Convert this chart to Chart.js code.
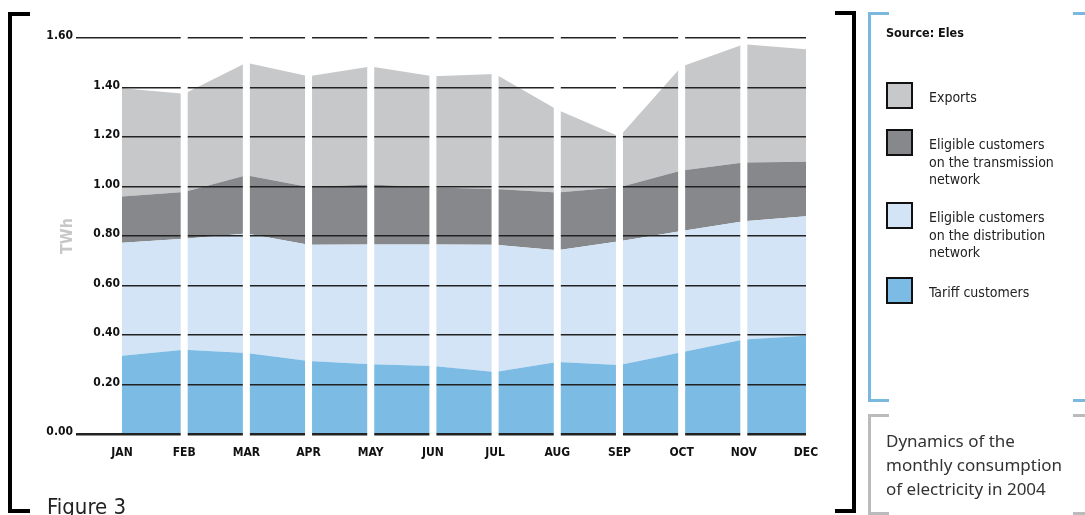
<!DOCTYPE html>
<html>
<head>
<meta charset="utf-8">
<script src="https://cdn.jsdelivr.net/npm/chart.js@4"></script>
<style>
  html, body { margin: 0; padding: 0; background: #fff; }
  body { width: 1085px; height: 515px; position: relative; overflow: hidden;
         font-family: 'DejaVu Sans Condensed', 'Liberation Sans Narrow', sans-serif; }
  #wrap { position: absolute; left: 0; top: 0; width: 840px; height: 515px; }
  .brk { position: absolute; box-sizing: border-box; }
  #figure { position: absolute; left: 47px; top: 494px; font-size: 22px; color: #222;
            font-family: 'DejaVu Sans Condensed', sans-serif; }
  #source { position: absolute; left: 886px; top: 25px; font-size: 12.5px; font-weight: bold; color: #111; }
  .lg-box { position: absolute; left: 886px; width: 27px; height: 27px; box-sizing: border-box; border: 2px solid #111; }
  .lg-txt { position: absolute; left: 929px; font-size: 14px; line-height: 17.5px; color: #222; white-space: pre-line; }
  #caption { position: absolute; left: 886px; top: 429px; font-family: 'Noto Sans', 'Open Sans', sans-serif;
             font-size: 17px; line-height: 24px; color: #333; }
</style>
</head>
<body>
<div id="wrap"><canvas id="c"></canvas></div>

<div class="brk" style="left:8px;top:12px;width:22px;height:501px;border-left:4px solid #000;border-top:4px solid #000;border-bottom:4px solid #000;"></div>
<div class="brk" style="left:835px;top:11px;width:21px;height:502px;border-right:4px solid #000;border-top:4px solid #000;border-bottom:4px solid #000;"></div>
<div class="brk" style="left:868px;top:12px;width:21px;height:390px;border-left:3px solid #7ab8e0;border-top:3px solid #7ab8e0;border-bottom:3px solid #7ab8e0;"></div>
<div class="brk" style="left:1073px;top:12px;width:12px;height:390px;border-top:3px solid #7ab8e0;border-bottom:3px solid #7ab8e0;"></div>
<div class="brk" style="left:868px;top:414px;width:21px;height:101px;border-left:3px solid #b9bbbd;border-top:3px solid #b9bbbd;border-bottom:3px solid #b9bbbd;"></div>
<div class="brk" style="left:1073px;top:414px;width:12px;height:101px;border-top:3px solid #b9bbbd;border-bottom:3px solid #b9bbbd;"></div>

<div id="figure">Figure 3</div>
<div id="source">Source: Eles</div>
<div id="legend"></div>
<div id="caption">Dynamics of the<br>monthly consumption<br>of electricity in 2004</div>

<script>
// ---- data ----
const months = ['JAN','FEB','MAR','APR','MAY','JUN','JUL','AUG','SEP','OCT','NOV','DEC'];
const tariffCustomers       = [0.316, 0.340, 0.327, 0.295, 0.282, 0.275, 0.251, 0.291, 0.279, 0.330, 0.382, 0.397];
const distributionCustomers = [0.457, 0.449, 0.483, 0.470, 0.484, 0.491, 0.514, 0.451, 0.500, 0.490, 0.478, 0.483];
const transmissionCustomers = [0.187, 0.189, 0.235, 0.233, 0.242, 0.230, 0.225, 0.234, 0.218, 0.245, 0.237, 0.220];
const exportsValues         = [0.437, 0.397, 0.455, 0.447, 0.477, 0.449, 0.465, 0.334, 0.205, 0.420, 0.478, 0.455];
const seriesNames = ['Tariff customers',
                     'Eligible customers\non the distribution\nnetwork',
                     'Eligible customers\non the transmission\nnetwork',
                     'Exports'];
const seriesColors = ['#7bbbe4', '#d2e4f5', '#86888c', '#c6c8ca'];
const yMin = 0, yMax = 1.6, yStep = 0.2;
const yUnit = 'TWh';

const FONT = "'DejaVu Sans Condensed', 'Liberation Sans Narrow', sans-serif";
const isEdge = v => Math.abs(v - yMin) < 1e-6 || Math.abs(v - yMax) < 1e-6;
const isZero = c => c.tick && Math.abs(c.tick.value) < 1e-6;

const values = [tariffCustomers, distributionCustomers, transmissionCustomers, exportsValues];
const datasets = values.map((d, i) => ({
  label: seriesNames[i],
  data: d,
  backgroundColor: seriesColors[i],
  borderWidth: 0,
  pointRadius: 0,
  tension: 0,
  fill: i === 0 ? 'origin' : '-1',
  yAxisID: 'y'
}));

const gapPlugin = {
  id: 'gaps',
  afterDraw(chart) {
    const {ctx, chartArea, scales} = chart;
    ctx.save();
    ctx.fillStyle = '#fff';
    for (let i = 1; i < months.length - 1; i++) {
      const x = scales.x.getPixelForValue(i);
      ctx.fillRect(x - 3.5, chartArea.top - 5, 7, chartArea.bottom - chartArea.top + 9);
    }
    ctx.restore();
  }
};

new Chart(document.getElementById('c'), {
  type: 'line',
  data: { labels: months, datasets },
  plugins: [gapPlugin],
  options: {
    responsive: true,
    maintainAspectRatio: false,
    animation: false,
    layout: { padding: { left: 36, right: 34, top: 38, bottom: 51 } },
    plugins: { legend: { display: false }, tooltip: { enabled: false } },
    scales: {
      x: {
        offset: false,
        grid: { display: false, drawTicks: false },
        border: { display: false },
        ticks: { autoSkip: false, maxRotation: 0, padding: 12, color: '#111',
                 font: { family: FONT, size: 12, weight: 'bold' } },
        afterFit: s => { s.height = 30; }
      },
      y: {
        position: 'left',
        stacked: true,
        min: yMin, max: yMax,
        border: { display: false },
        grid: {
          z: 1,
          color: '#222',
          lineWidth: c => isZero(c) ? 2.5 : 1.4,
          drawTicks: true,
          tickLength: 46,
          tickWidth: c => isZero(c) ? 2.5 : 1.4,
          tickColor: c => (c.tick && isEdge(c.tick.value)) ? '#222' : 'rgba(0,0,0,0)'
        },
        ticks: {
          stepSize: yStep, padding: -44, labelOffset: -2, color: '#111',
          font: { family: FONT, size: 12, weight: 'bold' },
          callback: v => isEdge(v) ? '' : Number(v).toFixed(2)
        },
        afterFit: s => { s.width = 46; }
      },
      y2: {
        position: 'left',
        weight: 1,
        min: yMin, max: yMax,
        border: { display: false },
        grid: { display: false, drawTicks: false },
        ticks: {
          stepSize: yStep, padding: 3, labelOffset: -2, color: '#111',
          font: { family: FONT, size: 12, weight: 'bold' },
          callback: v => isEdge(v) ? Number(v).toFixed(2) : ''
        },
        title: { display: true, text: yUnit, color: '#c5c7c9', padding: { top: 22, bottom: 0 },
                 font: { family: FONT, size: 16, weight: 'bold' } },
        afterFit: s => { s.width = 40; }
      }
    }
  }
});

// HTML legend built from the series
const legendTops = { 3: 82, 2: 129, 1: 202, 0: 277 };
const lg = document.getElementById('legend');
[3, 2, 1, 0].forEach(i => {
  const b = document.createElement('div');
  b.className = 'lg-box';
  b.style.top = legendTops[i] + 'px';
  b.style.background = seriesColors[i];
  lg.appendChild(b);
  const t = document.createElement('div');
  t.className = 'lg-txt';
  t.style.top = (legendTops[i] + 7) + 'px';
  t.textContent = seriesNames[i];
  lg.appendChild(t);
});
</script>
</body>
</html>
